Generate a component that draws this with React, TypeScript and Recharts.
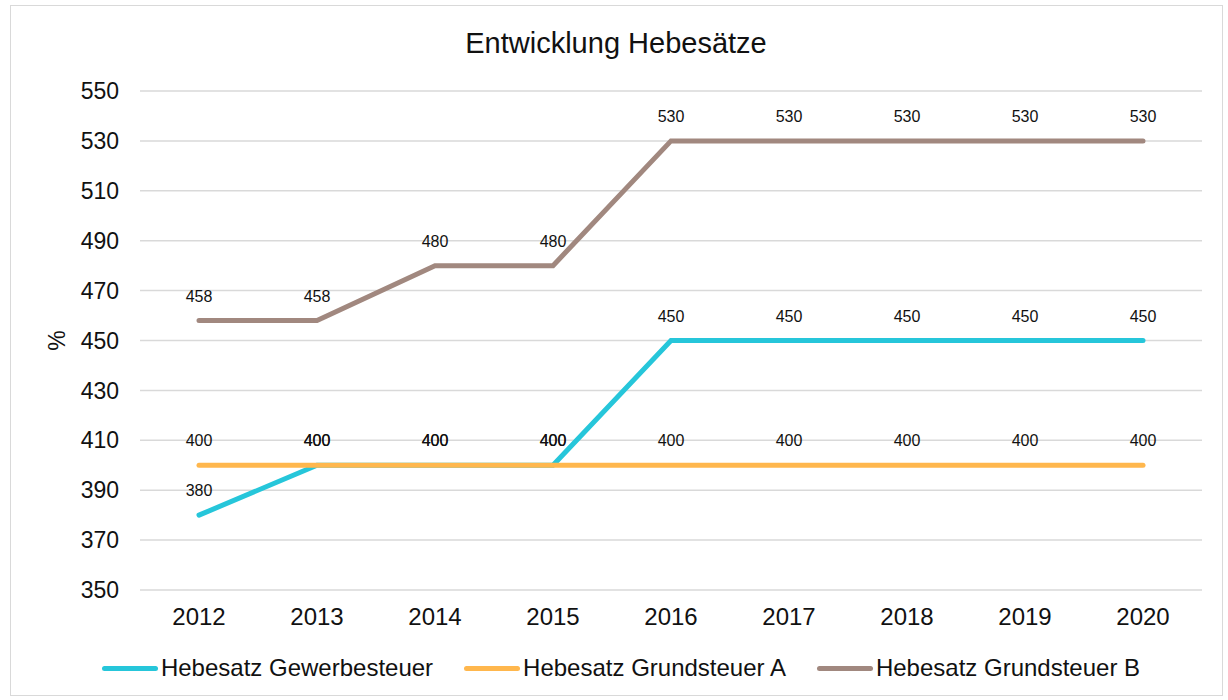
import { CartesianGrid, LabelList, Legend, Line, LineChart, XAxis, YAxis } from "recharts";

const years = ["2012", "2013", "2014", "2015", "2016", "2017", "2018", "2019", "2020"];
const gewerbesteuer = [380, 400, 400, 400, 450, 450, 450, 450, 450];
const grundsteuerA = [400, 400, 400, 400, 400, 400, 400, 400, 400];
const grundsteuerB = [458, 458, 480, 480, 530, 530, 530, 530, 530];
const yTicks = [350, 370, 390, 410, 430, 450, 470, 490, 510, 530, 550];

const series = [
  { key: "gew", name: "Hebesatz Gewerbesteuer", color: "#26C6DA" },
  { key: "a", name: "Hebesatz Grundsteuer A", color: "#FFB74D" },
  { key: "b", name: "Hebesatz Grundsteuer B", color: "#A1887F" },
];

const data = years.map((year, i) => ({
  year,
  gew: gewerbesteuer[i],
  a: grundsteuerA[i],
  b: grundsteuerB[i],
}));

const font = "'Liberation Sans', Arial, sans-serif";

function LegendRow() {
  return (
    <div
      style={{
        display: "flex",
        justifyContent: "center",
        alignItems: "center",
        height: 30,
        gap: 31,
        fontFamily: font,
        fontSize: 24,
        color: "#111",
        paddingRight: 0,
      }}
    >
      {series.map((s) => (
        <div key={s.key} style={{ display: "flex", alignItems: "center" }}>
          <span
            style={{
              display: "inline-block",
              width: 56,
              height: 5,
              borderRadius: 3,
              background: s.color,
              marginRight: 3,
            }}
          />
          {s.name}
        </div>
      ))}
    </div>
  );
}

export default function App() {
  return (
    <div style={{ position: "absolute", left: 0, top: 0, width: 1228, height: 700, background: "#fff" }}>
      <div
        style={{
          position: "absolute",
          left: 10,
          top: 5,
          width: 1211,
          height: 689,
          border: "1px solid #d9d9d9",
        }}
      />
      <div
        style={{
          position: "absolute",
          left: 10,
          top: 27,
          width: 1212,
          textAlign: "center",
          fontFamily: font,
          fontSize: 29,
          color: "#111",
        }}
      >
        Entwicklung Hebesätze
      </div>
      <div style={{ position: "absolute", left: 0, top: 0 }}>
        <LineChart width={1228} height={700} data={data} margin={{ top: 91, right: 26, bottom: 17, left: 40 }}>
          <CartesianGrid vertical={false} stroke="#d9d9d9" strokeWidth={1.5} />
          <XAxis
            dataKey="year"
            axisLine={false}
            tickLine={false}
            tickMargin={12}
            height={63}
            padding={{ left: 59, right: 59 }}
            tick={{ fill: "#111", fontSize: 24, fontFamily: font }}
          />
          <YAxis
            domain={[350, 550]}
            ticks={yTicks}
            width={100}
            axisLine={false}
            tickLine={false}
            tickMargin={15}
            tick={{ fill: "#111", fontSize: 23, fontFamily: font }}
            label={({ viewBox }: any) => (
              <text
                x={viewBox.x + 17}
                y={viewBox.y + viewBox.height / 2}
                transform={`rotate(-90, ${viewBox.x + 17}, ${viewBox.y + viewBox.height / 2})`}
                textAnchor="middle"
                dominantBaseline="central"
                fontFamily={font}
                fontSize={23}
                fill="#111"
              >
                %
              </text>
            )}
          />
          <Legend verticalAlign="bottom" content={() => <LegendRow />} />
          {series.map((s) => (
            <Line
              key={s.key}
              dataKey={s.key}
              name={s.name}
              type="linear"
              stroke={s.color}
              strokeWidth={5}
              strokeLinecap="round"
              dot={false}
              activeDot={false}
              isAnimationActive={false}
            >
              <LabelList dataKey={s.key} position="top" offset={19} fill="#111" fontSize={16} fontFamily={font} />
            </Line>
          ))}
        </LineChart>
      </div>
    </div>
  );
}
